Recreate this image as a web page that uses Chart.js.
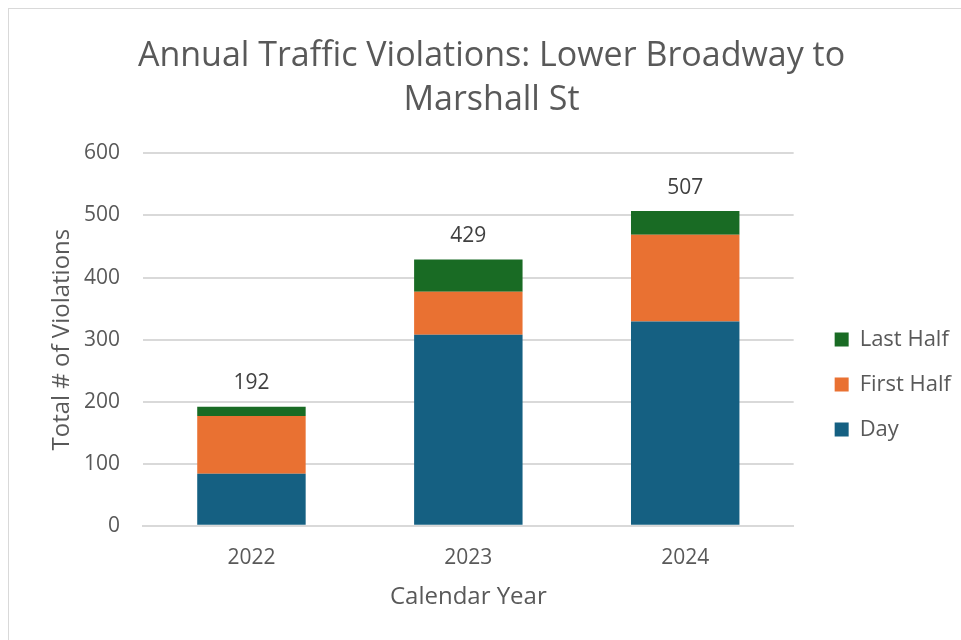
<!DOCTYPE html>
<html><head><meta charset="utf-8">
<script src="https://cdn.jsdelivr.net/npm/chart.js@4.4.1/dist/chart.umd.min.js"></script>
<style>
html,body{margin:0;padding:0;background:#fff;overflow:hidden;}
#frame{position:absolute;left:8px;top:8px;width:1000px;height:700px;border:1px solid #d9d9d9;box-sizing:border-box;}
#wrap{position:absolute;left:0;top:0;width:961px;height:640px;}
</style></head>
<body>
<div id="frame"></div>
<div id="wrap"><canvas id="c" width="961" height="640"></canvas></div>
<script>
const categories = ["2022", "2023", "2024"];
const dayValues = [84, 308, 329];
const firstHalfValues = [93, 69, 140];
const lastHalfValues = [15, 52, 38];
const yTicks = [0, 100, 200, 300, 400, 500, 600];
const titleLines = ["Annual Traffic Violations: Lower Broadway to", "Marshall St"];

const FONT = "'Open Sans', sans-serif";
const TXT = "#595959";
const LEGEND_DX = 18;
const LEGEND_DY = 66;
const TITLE_DX = -4;

const totalsPlugin = {
  id: 'totals',
  afterDatasetsDraw(chart) {
    const ctx = chart.ctx;
    const y = chart.scales.y;
    const metaTop = chart.getDatasetMeta(chart.data.datasets.length - 1);
    ctx.save();
    ctx.font = "21px " + FONT;
    ctx.fillStyle = "#404040";
    ctx.textAlign = "center";
    ctx.textBaseline = "bottom";
    categories.forEach((c, i) => {
      const total = dayValues[i] + firstHalfValues[i] + lastHalfValues[i];
      const x = metaTop.data[i].x;
      ctx.fillText(String(total), x, y.getPixelForValue(total) - 13);
    });
    ctx.restore();
  }
};

const boxShift = {
  id: 'boxShift',
  beforeDraw(chart) {
    const lg = chart.legend;
    if (lg && !lg._shifted) {
      lg.top += LEGEND_DY; lg.bottom += LEGEND_DY;
      lg.left += LEGEND_DX; lg.right += LEGEND_DX;
      lg._shifted = true;
    }
    const tb = chart.titleBlock;
    if (tb && !tb._shifted) { tb.left += TITLE_DX; tb.right += TITLE_DX; tb._shifted = true; }
  }
};

new Chart(document.getElementById('c'), {
  type: 'bar',
  data: {
    labels: categories,
    datasets: [
      { label: 'Day', data: dayValues, backgroundColor: '#156082' },
      { label: 'First Half', data: firstHalfValues, backgroundColor: '#E97132' },
      { label: 'Last Half', data: lastHalfValues, backgroundColor: '#196B24' }
    ]
  },
  options: {
    responsive: false,
    animation: false,
    devicePixelRatio: 1,
    layout: { padding: { left: 48, right: 18, top: 34, bottom: 37 } },
    datasets: { bar: { categoryPercentage: 1.0, barPercentage: 0.5, borderWidth: 0 } },
    plugins: {
      title: {
        display: true, text: titleLines, color: TXT,
        font: { family: FONT, size: 34, weight: 'normal', lineHeight: 1.3 },
        padding: { top: 0, bottom: 31 }
      },
      legend: {
        position: 'right', reverse: true, align: 'center',
        labels: { color: TXT, font: { family: FONT, size: 22 }, boxWidth: 14, boxHeight: 14, padding: 23 }
      },
      tooltip: { enabled: false }
    },
    scales: {
      x: {
        stacked: true,
        grid: { display: false, drawTicks: false },
        border: { color: '#d9d9d9', width: 2 },
        ticks: { color: TXT, font: { family: FONT, size: 21 }, padding: 20 },
        title: { display: true, text: 'Calendar Year', color: TXT, font: { family: FONT, size: 24, lineHeight: 0.5 }, padding: { top: 0, bottom: 0 } }
      },
      y: {
        stacked: true, min: 0, max: 600,
        afterBuildTicks(scale) { scale.ticks = yTicks.map(v => ({ value: v })); },
        afterFit(scale) { scale.width = 95; },
        grid: { color: '#d9d9d9', lineWidth: 2, drawTicks: false },
        border: { display: false },
        ticks: { color: TXT, font: { family: FONT, size: 21 }, padding: 23 },
        title: { display: true, text: 'Total # of Violations', color: TXT, font: { family: FONT, size: 24 }, padding: { top: 0, bottom: 0 } }
      }
    }
  },
  plugins: [totalsPlugin, boxShift]
});
</script>
</body></html>
